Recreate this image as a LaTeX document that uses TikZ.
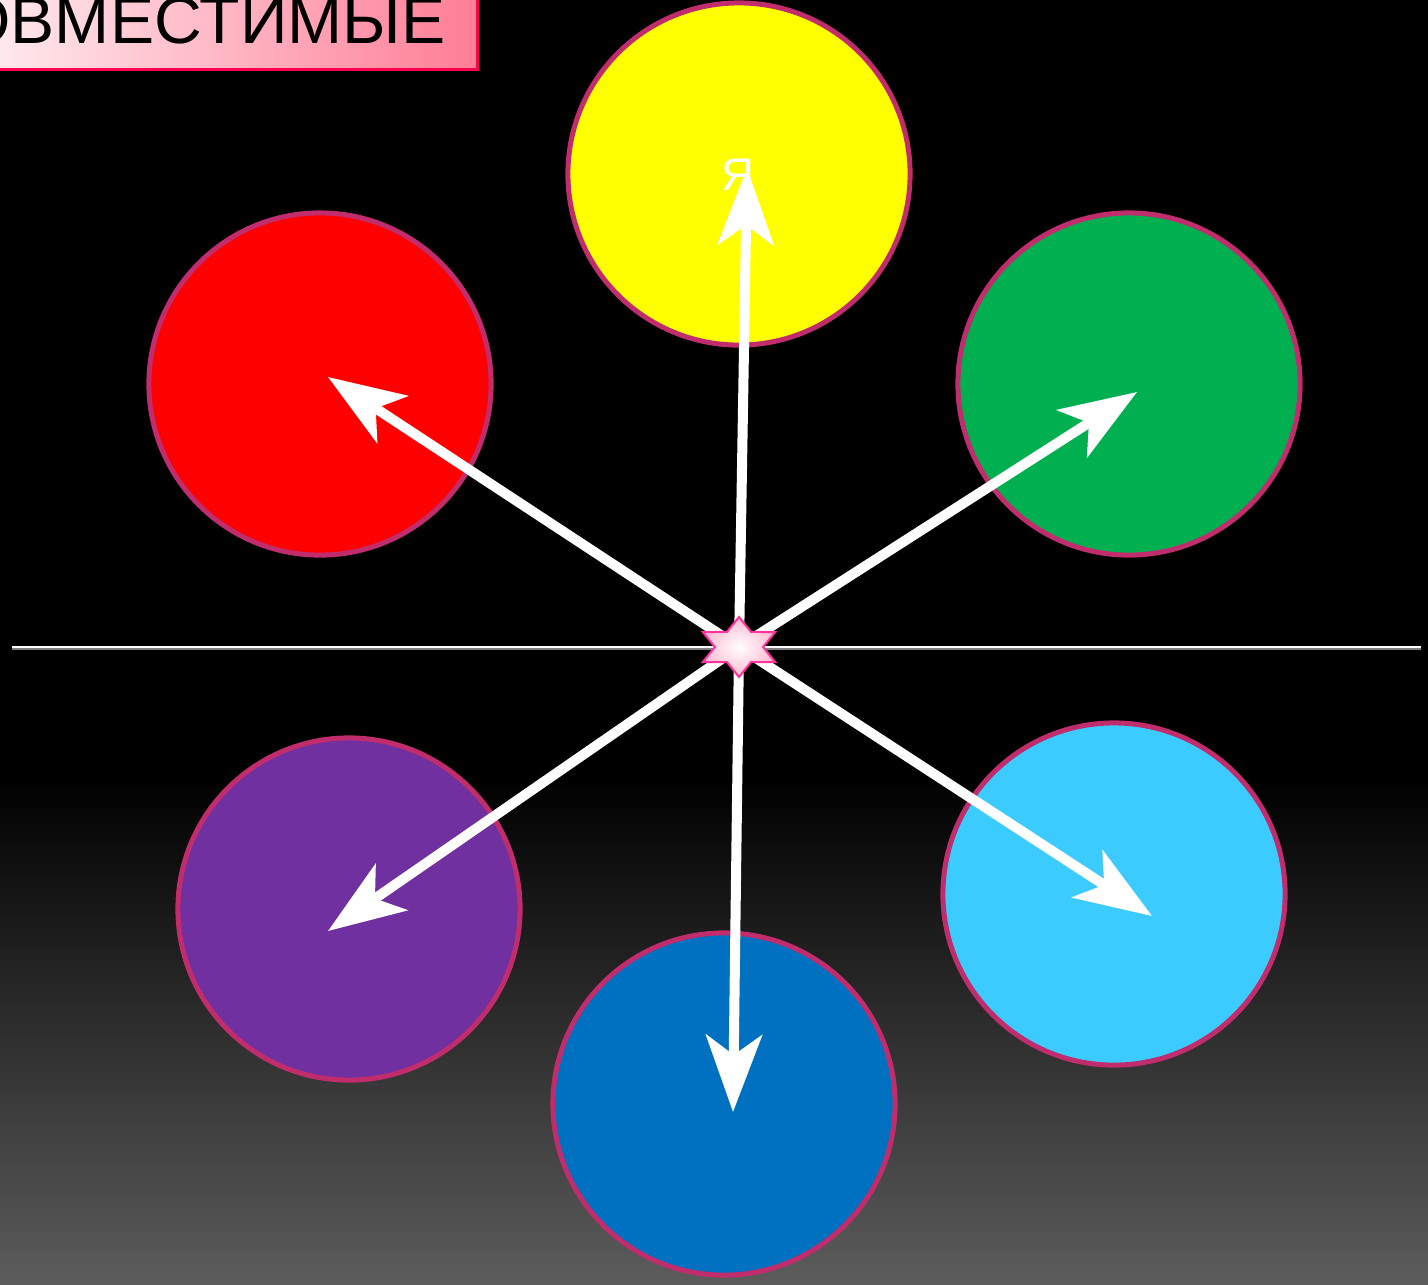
\documentclass[tikz,border=0pt]{standalone}
\usepackage{fontspec}
\setmainfont{Liberation Sans}
\usepackage{tikz}
\usetikzlibrary{shapes.geometric, arrows.meta}
\definecolor{ringc}{RGB}{192,44,108}
\definecolor{bgbot}{RGB}{92,92,92}
\definecolor{colY}{RGB}{255,255,0}
\definecolor{colR}{RGB}{255,0,0}
\definecolor{colG}{RGB}{0,176,80}
\definecolor{colP}{RGB}{112,48,160}
\definecolor{colL}{RGB}{60,203,255}
\definecolor{colB}{RGB}{0,112,192}
\definecolor{boxpink}{RGB}{255,125,150}
\definecolor{boxline}{RGB}{255,0,80}
\definecolor{starline}{RGB}{255,51,153}
\definecolor{starpink}{RGB}{255,185,210}

\begin{document}
\begin{tikzpicture}[x=0.01cm, y=-0.01cm,
    disc/.style={circle, draw=ringc, line width=0.05cm,
        minimum size=3.42cm, inner sep=0pt},
    ray/.style={draw=white, line width=0.1cm,
        -{Stealth[length=0.77cm, width=0.56cm, inset=0.2cm]}},
    hexstar/.style={star, star points=6, star point ratio=1.73,
        minimum size=0.6cm, inner sep=0pt, xscale=1.39,
        draw=starline, line width=0.02cm,
        inner color=white, outer color=starpink},
    ]
        \useasboundingbox (0,0) rectangle (1428,1284);
        \clip (0,0) rectangle (1428,1284);
        % Background
        \fill[black] (0,0) rectangle (1428,778);
        \shade[top color=black, bottom color=bgbot] (0,777) rectangle (1428,1284);
        % Title box
        \shade[left color=white, right color=boxpink, draw=boxline, line width=0.03cm]
            (-100,-100) rectangle (477,69);
        \node[anchor=base east, inner sep=0pt, font=\fontsize{18.8pt}{22pt}\selectfont]
            (title) at (446,43) {ОВМЕСТИМЫЕ};
        % Colour circles
        \node[disc, fill=colY] (yel) at (739,174) {};
        \node[disc, fill=colR] (red) at (320,384) {};
        \node[disc, fill=colG] (grn) at (1129,384) {};
        \node[disc, fill=colP] (pur) at (349,909) {};
        \node[disc, fill=colL] (lbl) at (1114,894) {};
        \node[disc, fill=colB] (blu) at (724,1104) {};
        \node[anchor=base, inner sep=0pt, text=white, font=\fontsize{13pt}{15pt}\selectfont]
            (me) at (738,190) {Я};
        % Horizon
        \draw[gray, line width=0.02cm] (12,649) -- (1421,649);
        \draw[white, line width=0.025cm] (12,647) -- (1421,647);
        % Arrows
        \coordinate (hub) at (739,647);
        \coordinate (tipY) at (747,168);
        \coordinate (tipR) at (328,377);
        \coordinate (tipG) at (1137,392);
        \coordinate (tipP) at (328,931);
        \coordinate (tipL) at (1152,916);
        \coordinate (tipB) at (733,1112);
        \foreach \t in {tipY,tipR,tipG,tipP,tipL,tipB}
            \draw[ray] (hub) -- (\t);
        % Centre star
        \node[hexstar] (centre) at (hub) {};
    \end{tikzpicture}
\end{document}
